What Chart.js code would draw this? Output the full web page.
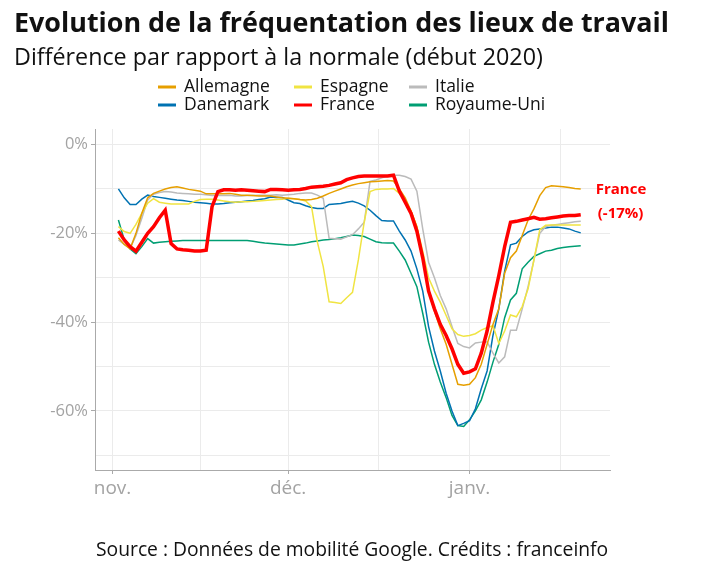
<!DOCTYPE html>
<html>
<head>
<meta charset="utf-8">
<script src="https://cdn.jsdelivr.net/npm/chart.js@4.4.1/dist/chart.umd.min.js"></script>
<style>
  html, body { margin: 0; padding: 0; background: #fff; }
  #wrap { width: 720px; height: 576px; }
</style>
</head>
<body>
<div id="wrap"><canvas id="chart" width="720" height="576"></canvas></div>
<script>
// x = days since Nov 1st (data runs Nov 2 -> Jan 20)
const dayIndex = Array.from({ length: 80 }, (_, i) => i + 1);

// x grid: Nov 1, Nov 16, Dec 1, mid-Dec, Jan 1, mid-Jan
const xTickDays = [0, 15, 30, 45.5, 61, 76.5];
const xTickLabels = { 0: 'nov.', 30: 'déc.', 61: 'janv.' };

const yTickValues = [-70, -60, -50, -40, -30, -20, -10, 0];
const yTickLabels = { 0: '0%', '-20': '-20%', '-40': '-40%', '-60': '-60%' };

const countries = ['Allemagne', 'Espagne', 'Italie', 'Danemark', 'France', 'Royaume-Uni'];
const colors = ['#E69F00', '#F0E442', '#BBBBBB', '#0072B2', '#FF0000', '#009E73'];

// % difference vs. baseline, one value per day
const allemagne = [-21, -22.5, -23.5, -20, -15.5, -12, -11, -10.5, -10, -9.7,
  -9.5, -9.8, -10.1, -10.3, -10.5, -11.1, -11.1, -11.1, -11.1, -11,
  -11.2, -11.4, -11.4, -11.5, -11.6, -11.6, -11.6, -11.8, -12, -12.1,
  -12.2, -12.4, -12.5, -12.4, -12.1, -11.6, -11, -10.5, -10, -9.5,
  -9.1, -8.8, -8.6, -8.4, -8.3, -8.2, -8.1, -8.2, -10, -12,
  -15, -18.5, -25, -33, -37.5, -41.5, -45, -49.5, -54, -54.2,
  -54, -52.5, -49.5, -45, -40.5, -37, -29, -25.5, -24, -20.5,
  -17, -14.5, -11.5, -9.7, -9.3, -9.4, -9.5, -9.7, -9.9, -10];

const espagne = [-18.5, -19.6, -20, -18, -15.5, -13.2, -12.2, -13, -13.2, -13.4,
  -13.4, -13.4, -13.4, -12.8, -12.4, -12.3, -12.3, -12.5, -12.7, -12.9,
  -13, -12.9, -12.9, -12.8, -12.7, -12.6, -12.5, -12.4, -12.3, -12.1,
  -12.2, -12.4, -12.7, -14, -22, -27.5, -35.4, -35.6, -35.8, -34.5,
  -33.3, -26, -17.5, -10.6, -10.1, -10, -10, -9.9, -11, -12.5,
  -15, -18.5, -24, -30, -33, -35.5, -38.5, -41.5, -42.8, -43.2,
  -43, -42.6, -41.8, -41.2, -40.8, -44.8, -42, -38.4, -38.8, -36.5,
  -32.5, -26, -19.2, -18.2, -18.1, -18.1, -18.1, -18.1, -18.1, -18.1];

const italie = [-21.5, -22.5, -23.4, -20.5, -16.6, -12.5, -11.2, -10.8, -10.6, -10.7,
  -10.9, -11, -11.1, -11.2, -11.2, -11.3, -11.5, -11.5, -11.5, -11.4,
  -11.6, -11.6, -11.5, -11.5, -11.4, -11.4, -11.4, -11.3, -11.4, -11.3,
  -11.2, -11, -10.9, -10.9, -11.4, -12.1, -21.1, -21.2, -21.3, -20.8,
  -20.3, -19, -17.5, -8.3, -8, -7.5, -7.1, -6.9, -6.9, -7.2,
  -7.8, -10.5, -19, -26.5, -30, -34, -37, -41, -44.8, -45.5,
  -45.8, -44.7, -44.5, -44.4, -47, -49.2, -47.8, -41.8, -41.8, -37,
  -32, -26, -20, -18.5, -18.2, -18, -17.8, -17.6, -17.4, -17.3];

const danemark = [-10, -12, -13.5, -13.5, -12.3, -11.4, -11.7, -11.9, -12.1, -12.3,
  -12.5, -12.6, -12.8, -13, -13.1, -13.2, -13.4, -13.4, -13.3, -13.1,
  -13, -12.9, -12.7, -12.6, -12.4, -12.2, -11.8, -11.9, -11.9, -12.5,
  -13.1, -13.3, -13.8, -14.2, -14.4, -14.4, -13.5, -13.4, -13.3, -13,
  -12.8, -13.2, -13.8, -14.8, -16, -17.1, -17.2, -17.2, -19.5, -21.5,
  -24, -28, -33, -41, -46.5, -51, -56, -60, -63.3, -62.8,
  -62.2, -59.5, -55, -51, -43, -37, -28.5, -22.6, -22.2, -20.7,
  -19.7, -19.2, -19, -18.8, -18.6, -18.6, -18.8, -19, -19.5, -19.9];

const france = [-19.5, -21.5, -23, -24, -22, -20, -18.5, -16.5, -14.8, -22.3,
  -23.5, -23.7, -23.8, -24, -24, -23.8, -14, -10.6, -10.2, -10.2,
  -10.3, -10.2, -10.3, -10.4, -10.5, -10.6, -10.1, -10.1, -10.2, -10.3,
  -10.2, -10.1, -9.9, -9.6, -9.5, -9.4, -9.2, -8.9, -8.6, -7.9,
  -7.5, -7.2, -7.1, -7.1, -7.1, -7.1, -7.1, -6.9, -10.5, -13,
  -15.5, -19.5, -25.5, -33, -37, -40.5, -43, -46, -49.5, -51.5,
  -51.2, -50.5, -47, -42, -35.5, -29.5, -23, -17.5, -17.3, -17,
  -16.7, -16.4, -16.8, -16.7, -16.5, -16.3, -16.1, -16, -16, -15.8];

const royaumeUni = [-17, -21.5, -23.5, -24.6, -23, -21.2, -22.2, -22, -21.9, -21.8,
  -21.7, -21.6, -21.6, -21.6, -21.6, -21.6, -21.6, -21.6, -21.6, -21.6,
  -21.6, -21.6, -21.6, -21.8, -22, -22.2, -22.3, -22.4, -22.5, -22.6,
  -22.6, -22.4, -22.2, -21.9, -21.7, -21.5, -21.4, -21.2, -21, -20.7,
  -20.4, -20.5, -20.7, -21.3, -21.9, -22.1, -22.2, -22.2, -24, -26,
  -29, -32, -38, -44.5, -49.5, -53.5, -57, -61, -63.3, -63.5,
  -62, -60, -57.5, -53.5, -49, -45, -39, -35, -33.5, -28,
  -26.5, -25.2, -24.6, -24, -23.8, -23.4, -23.2, -23, -22.9, -22.8];

const seriesValues = [allemagne, espagne, italie, danemark, france, royaumeUni];

const titleText = 'Evolution de la fréquentation des lieux de travail';
const subtitleText = 'Différence par rapport à la normale (début 2020)';
const sourceText = 'Source : Données de mobilité Google. Crédits : franceinfo';
const annotationLines = ['France', '(-17%)'];

const FONT = '"Open Sans", Lato, sans-serif';
const TICK_GREY = '#a3a3a3';

// pick a font size so the text spans the given width
function fitFont(ctx, text, weight, width) {
  ctx.font = weight + ' 100px ' + FONT;
  const size = 100 * width / ctx.measureText(text).width;
  return weight + ' ' + size.toFixed(1) + 'px ' + FONT;
}

// Title, subtitle, grid-aligned legend, source and France label
const textsPlugin = {
  id: 'texts',
  afterDraw(chart) {
    const ctx = chart.ctx;
    ctx.save();
    ctx.fillStyle = '#111';
    ctx.textAlign = 'left';
    ctx.textBaseline = 'alphabetic';
    ctx.font = fitFont(ctx, titleText, 'bold', 654);
    ctx.fillText(titleText, 14, 32);
    ctx.font = fitFont(ctx, subtitleText, 'normal', 530);
    ctx.fillText(subtitleText, 14, 65);

    // legend: 3 columns x 2 rows
    const colX = [158, 294, 409];
    const rowY = [87, 105];
    ctx.font = '17.5px ' + FONT;
    ctx.textBaseline = 'middle';
    countries.forEach((name, i) => {
      const x = colX[i % 3];
      const y = rowY[Math.floor(i / 3)];
      ctx.strokeStyle = colors[i];
      ctx.lineWidth = 3;
      ctx.beginPath();
      ctx.moveTo(x, y);
      ctx.lineTo(x + 18, y);
      ctx.stroke();
      ctx.fillStyle = '#111';
      ctx.fillText(name, x + 26, y);
    });

    // source line
    ctx.textAlign = 'left';
    ctx.textBaseline = 'alphabetic';
    ctx.font = fitFont(ctx, sourceText, 'normal', 512);
    ctx.fillText(sourceText, 96, 556);

    // France label next to its last point
    const xs = chart.scales.x, ys = chart.scales.y;
    const lastX = xs.getPixelForValue(dayIndex[dayIndex.length - 1]);
    const lastY = ys.getPixelForValue(france[france.length - 1]);
    ctx.fillStyle = '#FF0000';
    ctx.textBaseline = 'middle';
    ctx.font = 'bold 15px ' + FONT;
    ctx.fillText(annotationLines[0], lastX + 15, lastY - 25);
    ctx.fillText(annotationLines[1], lastX + 17, lastY - 1);
    ctx.restore();
  }
};

const datasets = countries.map((name, i) => ({
  label: name,
  data: dayIndex.map((d, j) => ({ x: d, y: seriesValues[i][j] })),
  borderColor: colors[i],
  backgroundColor: colors[i],
  borderWidth: name === 'France' ? 3.5 : 1.5,
  pointRadius: 0,
  tension: 0,
  order: name === 'France' ? 0 : 1
}));

new Chart(document.getElementById('chart'), {
  type: 'line',
  data: { datasets: datasets },
  options: {
    responsive: false,
    devicePixelRatio: 1,
    animation: false,
    layout: { padding: { left: 0, right: 110, top: 129, bottom: 66 } },
    plugins: {
      legend: { display: false },
      title: { display: false },
      tooltip: { enabled: false }
    },
    scales: {
      x: {
        type: 'linear',
        min: -3,
        max: 85,
        afterBuildTicks: scale => {
          scale.ticks = xTickDays.map(v => ({ value: v }));
        },
        afterFit: scale => { scale.height = 40; },
        ticks: {
          autoSkip: false,
          maxRotation: 0,
          padding: 3,
          color: TICK_GREY,
          font: { family: FONT, size: 19 },
          callback: value => xTickLabels[value] || ''
        },
        grid: {
          color: '#ebebeb',
          lineWidth: 1,
          tickLength: 4,
          tickColor: c => (xTickLabels[c.tick.value] ? '#aaaaaa' : 'rgba(0,0,0,0)')
        },
        border: { display: true, color: '#aaaaaa', width: 1 }
      },
      y: {
        min: -73.3,
        max: 3.5,
        afterBuildTicks: scale => {
          scale.ticks = yTickValues.map(v => ({ value: v }));
        },
        afterFit: scale => { scale.width = 95; },
        ticks: {
          autoSkip: false,
          padding: 3,
          color: TICK_GREY,
          font: { family: FONT, size: 16.5 },
          callback: value => yTickLabels[value] || ''
        },
        grid: {
          color: '#ebebeb',
          lineWidth: 1,
          tickLength: 4,
          tickColor: c => (yTickLabels[c.tick.value] ? '#aaaaaa' : 'rgba(0,0,0,0)')
        },
        border: { display: true, color: '#aaaaaa', width: 1 }
      }
    }
  },
  plugins: [textsPlugin]
});
</script>
</body>
</html>
